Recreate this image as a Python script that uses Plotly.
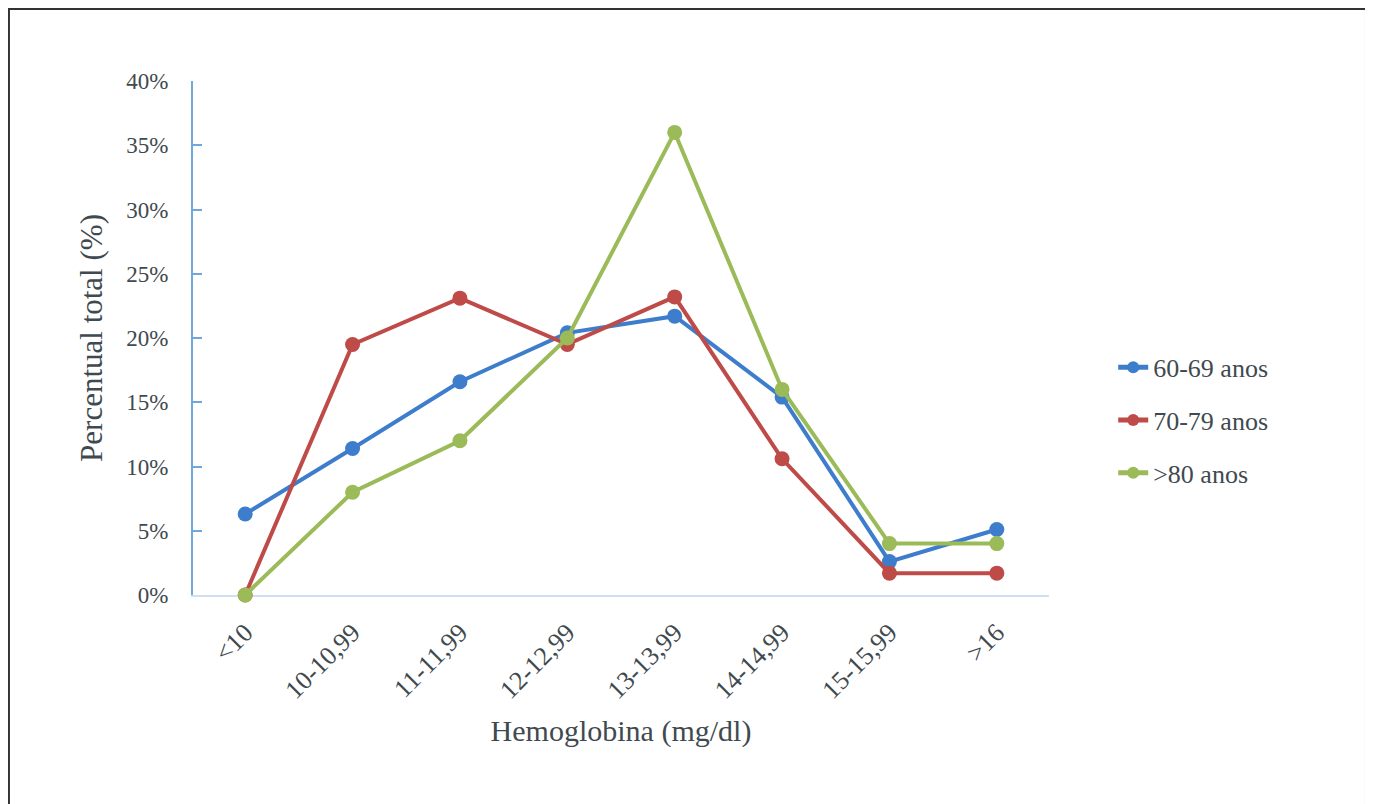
import plotly.graph_objects as go

categories = ["<10", "10-10,99", "11-11,99", "12-12,99", "13-13,99", "14-14,99", "15-15,99", ">16"]
series_names = ["60-69 anos", "70-79 anos", ">80 anos"]
vals_60_69 = [6.3, 11.4, 16.6, 20.4, 21.7, 15.4, 2.6, 5.1]
vals_70_79 = [0.0, 19.5, 23.1, 19.5, 23.2, 10.6, 1.7, 1.7]
vals_80 = [0.0, 8.0, 12.0, 20.0, 36.0, 16.0, 4.0, 4.0]
colors = ["#3D7DCB", "#BE4B48", "#9BBB59"]

text_color = "#3f4a4f"
font_family = "Liberation Serif, Times New Roman, serif"

fig = go.Figure()
for i, (name, vals, c) in enumerate(zip(series_names, [vals_60_69, vals_70_79, vals_80], colors)):
    fig.add_trace(go.Scatter(
        x=categories, y=vals, name=name, mode="lines+markers",
        legendgroup="g%d" % i, cliponaxis=False,
        line=dict(color=c, width=4),
        marker=dict(color=c, size=15),
    ))

# plot area in figure px: x 185..1041, y 73..587 (page adds ~8px body margin)
fig.update_layout(
    width=1373, height=804,
    margin=dict(l=185, r=332, t=73, b=217),
    paper_bgcolor="white", plot_bgcolor="white",
    font=dict(family=font_family, color=text_color),
    showlegend=True,
    legend=dict(
        x=1.075, y=0.34, xanchor="left", yanchor="middle",
        font=dict(size=26, family=font_family, color=text_color),
        tracegroupgap=16, itemsizing="constant",
        bgcolor="rgba(0,0,0,0)",
    ),
    xaxis=dict(
        type="category", categoryorder="array", categoryarray=categories,
        showgrid=False, zeroline=False, layer="below traces",
        showline=True, linecolor="#cfe0f3", linewidth=2,
        ticks="", tickangle=-45, ticklabelstandoff=10,
        tickfont=dict(size=26, family=font_family, color=text_color),
        title=dict(text="Hemoglobina (mg/dl)", font=dict(size=30, family=font_family, color=text_color), standoff=16),
    ),
    yaxis=dict(
        range=[0, 40], dtick=5, ticksuffix="%",
        showgrid=False, zeroline=False, layer="below traces",
        showline=True, linecolor="#6fa8dc", linewidth=2,
        ticks="inside", ticklen=9, tickcolor="#6fa8dc", tickwidth=2,
        ticklabelstandoff=18,
        tickfont=dict(size=23, family=font_family, color=text_color),
        title=dict(text="Percentual total (%)", font=dict(size=31, family=font_family, color=text_color), standoff=14),
    ),
)

# outer frame of the figure image
fig.add_shape(type="rect", xref="paper", yref="paper",
              x0=-0.2150, x1=1.3703, y0=-0.45, y1=1.140,
              line=dict(color="#333333", width=2), fillcolor="rgba(0,0,0,0)", layer="below")

fig.write_html("out.html")
